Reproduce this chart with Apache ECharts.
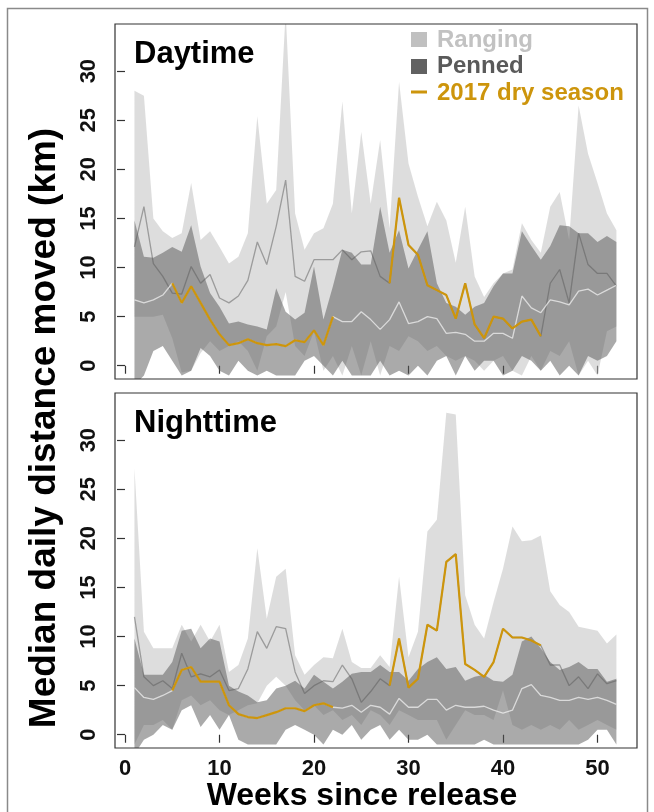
<!DOCTYPE html>
<html><head><meta charset="utf-8">
<script src="https://cdn.jsdelivr.net/npm/echarts@6.0.0/dist/echarts.min.js"></script>
<style>html,body{margin:0;padding:0;background:#fff}#chart{width:654px;height:812px}</style>
</head><body><div id="chart"></div>
<script>
const weeks = [1,2,3,4,5,6,7,8,9,10,11,12,13,14,15,16,17,18,19,20,21,22,23,24,25,26,27,28,29,30,31,32,33,34,35,36,37,38,39,40,41,42,43,44,45,46,47,48,49,50,51,52];
const xTicks = [0,10,20,30,40,50];
const yTicks = [0,5,10,15,20,25,30];

// Daytime
const rangingUpperDay = [28.0,27.5,15.0,13.7,13.0,13.5,18.6,12.8,13.7,12.1,10.4,11.1,13.5,25.4,16.5,17.9,36.0,15.5,11.8,13.5,14.0,16.5,26.9,15.5,23.8,16.5,23.0,14.0,28.9,20.6,17.2,14.2,16.7,14.8,10.5,16.2,9.1,7.0,8.4,9.4,9.8,14.5,12.8,11.5,16.2,17.7,12.8,26.5,21.6,18.6,15.5,13.8];
const rangingLowerDay = [5.0,5.0,5.0,5.2,2.8,-0.7,-0.5,1.3,2.5,1.5,2.0,2.5,1.5,-0.5,3.0,4.0,7.5,2.0,1.0,3.5,-0.5,1.0,-1.0,2.0,-1.0,2.5,-1.0,2.0,1.5,3.0,2.5,1.5,2.0,1.0,0.5,1.0,0.5,-0.5,0.5,1.0,-0.5,-1.0,1.0,-0.5,1.5,1.0,2.5,-1.0,0.5,-1.0,3.5,4.0];
const pennedUpperDay = [14.8,11.1,11.0,11.5,12.1,11.6,14.3,10.1,7.4,6.0,4.3,4.5,4.2,4.0,3.7,7.9,5.5,4.7,5.4,10.1,4.7,8.1,11.8,11.5,10.3,10.3,16.2,11.5,13.8,9.9,11.8,13.7,8.4,6.4,6.0,5.2,6.0,6.4,8.1,9.4,9.4,13.7,12.2,10.8,12.2,14.3,14.2,13.5,13.5,12.6,13.2,12.6];
const pennedLowerDay = [-2,-1,1.5,2.0,0.5,-1,-0.5,1.8,1.0,-0.5,-1,0.5,-0.5,-1,-0.5,-1,-1,-1,0.5,1.0,0,-1,0.5,-1,-1,-1,0.5,-1,-0.5,-1,0,-1,0.5,1.0,-1,1.0,-0.5,0.5,0.5,-1,-0.5,1.0,0.5,-0.5,0.5,-1,0,-1,1.0,0.5,1.0,2.5];
const rangingMedianDay = [12.1,16.2,10.4,9.1,7.4,7.3,10.1,8.4,9.3,6.9,6.4,7.1,8.7,12.6,10.3,14.2,18.9,9.1,8.6,10.8,10.8,10.8,11.8,10.8,11.6,11.7,9.1,8.4,17.1,12.3,11.3,8.2,7.7,7.2,4.8,8.4,4.2,2.8,5.0,4.8,3.8,4.5,4.7,3.0,8.4,9.8,6.4,13.5,10.3,9.4,9.4,8.1];
const pennedMedianDay = [6.7,6.4,6.7,7.2,8.4,6.4,8.1,6.4,4.7,3.2,2.1,2.3,2.7,2.3,2.1,2.2,2.0,2.6,2.4,3.6,2.1,5.0,4.5,4.5,5.5,4.7,3.7,4.7,6.5,4.3,4.5,5.0,4.8,3.3,3.4,3.2,2.5,2.5,3.3,3.3,2.8,7.1,5.9,5.4,6.7,6.5,6.2,7.6,7.8,7.2,7.7,8.2];
const drySeasonDay = [null,null,null,null,8.4,6.4,8.1,6.4,4.7,3.2,2.1,2.3,2.7,2.3,2.1,2.2,2.0,2.6,2.4,3.6,2.1,5.0,null,null,null,null,null,8.4,17.1,12.3,11.3,8.2,7.7,7.2,4.8,8.4,4.2,2.8,5.0,4.8,3.8,4.5,4.7,3.0,null,null,null,null,null,null,null,null];

// Nighttime
const rangingUpperNight = [27.1,10.5,8.8,8.8,8.8,11.2,9.5,11.2,9.5,11.2,6.4,7.1,9.8,19.0,11.8,16.1,16.9,8.1,6.1,7.1,7.9,7.8,10.8,7.4,6.8,6.8,8.1,6.9,16.1,7.9,10.5,20.7,21.9,32.8,32.6,14.2,11.2,9.8,13.5,16.9,21.2,19.7,19.8,20.3,14.6,13.2,12.5,11.0,10.8,10.6,9.3,10.2];
const rangingLowerNight = [-1.0,1.0,1.0,1.5,0.5,3.5,4.0,3.0,3.5,2.5,2.0,2.5,3.0,3.2,5.0,5.9,5.0,3.5,2.5,3.0,2.0,2.5,1.5,2.0,1.0,2.5,2.0,1.0,2.5,2.0,1.5,1.5,1.5,-0.5,1.0,2.5,2.0,2.0,1.5,4.5,1.0,0.5,1.0,0.5,1.0,0.5,1.5,0.5,1.0,1.5,1.0,0.5];
const pennedUpperNight = [9.8,6.1,6.1,6.1,7.4,10.6,10.8,8.8,9.8,9.5,5.0,4.4,4.0,3.3,3.5,4.7,5.0,5.5,4.7,6.1,5.4,4.7,5.4,6.2,6.4,6.4,7.1,6.4,6.4,5.5,6.7,7.4,7.9,6.7,6.9,5.5,5.9,6.1,5.5,5.4,6.1,9.5,10.0,8.8,7.4,6.6,6.9,7.4,6.7,6.7,5.4,5.7];
const pennedLowerNight = [-2,-0.5,0,1.0,0.5,2.5,3.0,0.8,2.0,0.5,2.0,-0.5,-1,-1,-1,-1,0.5,1.0,0.5,0,-1,0.5,0,1.0,-0.5,0.5,1.0,-0.5,0.5,-0.5,-0.5,0,-1,-1,-1,-1,-1,-0.5,-1,-1,-1,-1,-1,-1,-1,-1,-1,-1,-0.5,0.5,0.5,-1];
const rangingMedianNight = [12.0,5.9,5.0,5.5,4.7,8.3,5.9,6.2,5.9,6.6,4.5,4.7,6.7,10.5,8.8,11.0,10.8,6.4,4.2,5.0,5.5,5.4,7.1,5.7,3.3,4.4,5.7,5.0,9.8,4.8,5.7,11.2,10.6,17.6,18.4,7.2,6.6,5.9,7.4,10.8,9.9,9.9,9.6,9.1,7.1,7.1,5.0,5.9,4.7,6.2,5.2,5.5];
const pennedMedianNight = [4.8,3.8,3.6,4.0,4.5,6.6,6.9,5.4,5.4,5.4,3.0,2.1,1.8,1.7,2.0,2.3,2.7,2.7,2.4,3.0,3.2,2.8,2.7,3.0,2.3,3.0,2.8,2.1,3.7,2.8,2.8,3.6,3.6,2.5,3.0,2.8,2.8,2.9,2.5,2.2,2.5,4.7,5.1,4.0,3.8,3.5,3.5,3.8,3.6,3.8,3.5,3.1];
const drySeasonNight = [null,null,null,null,4.5,6.6,6.9,5.4,5.4,5.4,3.0,2.1,1.8,1.7,2.0,2.3,2.7,2.7,2.4,3.0,3.2,2.8,null,null,null,null,null,5.0,9.8,4.8,5.7,11.2,10.6,17.6,18.4,7.2,6.6,5.9,7.4,10.8,9.9,9.9,9.6,9.1,null,null,null,null,null,null,null,null];

const panelTitles = ['Daytime','Nighttime'];
const legendLabels = ['Ranging','Penned','2017 dry season'];
const xTitle = 'Weeks since release';
const yTitle = 'Median daily distance moved (km)';

const FONT = "'Liberation Sans', Arial, Helvetica, sans-serif";
const C_RANGE = 'rgba(187,187,187,0.5)';
const C_PEN = 'rgba(85,85,85,0.5)';
const C_RMED = 'rgba(90,90,90,0.5)';
const C_PMED = 'rgba(240,240,240,0.75)';
const C_DRY = '#CD950C';

const GRID_L = 115, GRID_W = 522, GRID_H = 355, TOPS = [24, 393];

function band(gi, upper, lower, fill) {
  return {
    type: 'custom', xAxisIndex: gi, yAxisIndex: gi, silent: true, clip: true, z: 1,
    data: [[weeks[0], upper[0]]],
    renderItem: function (params, api) {
      const pts = [];
      for (let i = 0; i < weeks.length; i++) pts.push(api.coord([weeks[i], upper[i]]));
      for (let i = weeks.length - 1; i >= 0; i--) pts.push(api.coord([weeks[i], lower[i]]));
      return { type: 'polygon', shape: { points: pts }, style: { fill: fill } };
    }
  };
}
function line(gi, arr, color, width, z) {
  return {
    type: 'line', xAxisIndex: gi, yAxisIndex: gi, silent: true, z: z,
    showSymbol: false, symbol: 'none', connectNulls: false,
    data: weeks.map((w, i) => [w, arr[i] == null ? '-' : arr[i]]),
    lineStyle: { color: color, width: width }
  };
}

const series = [
  band(0, rangingUpperDay, rangingLowerDay, C_RANGE),
  band(0, pennedUpperDay, pennedLowerDay, C_PEN),
  line(0, rangingMedianDay, C_RMED, 1.3, 3),
  line(0, pennedMedianDay, C_PMED, 1.3, 3),
  line(0, drySeasonDay, C_DRY, 2.2, 4),
  band(1, rangingUpperNight, rangingLowerNight, C_RANGE),
  band(1, pennedUpperNight, pennedLowerNight, C_PEN),
  line(1, rangingMedianNight, C_RMED, 1.3, 3),
  line(1, pennedMedianNight, C_PMED, 1.3, 3),
  line(1, drySeasonNight, C_DRY, 2.2, 4)
];

const graphic = [
  { type: 'rect', shape: { x: 7.5, y: 8.5, width: 640, height: 820 }, style: { fill: null, stroke: '#8a8a8a', lineWidth: 1.5 }, z: 200, silent: true }
];
TOPS.forEach((t, i) => {
  graphic.push({ type: 'rect', shape: { x: GRID_L, y: t, width: GRID_W, height: GRID_H }, style: { fill: null, stroke: '#333', lineWidth: 1.2 }, z: 200, silent: true });
  graphic.push({ type: 'text', x: 134, y: t + 30, style: { text: panelTitles[i], font: 'bold 31px ' + FONT, fill: '#000', verticalAlign: 'middle' }, z: 210 });
});
// legend
graphic.push({ type: 'rect', shape: { x: 411, y: 32, width: 16, height: 15 }, style: { fill: '#c0c0c0' }, z: 210 });
graphic.push({ type: 'rect', shape: { x: 411, y: 59, width: 16, height: 15 }, style: { fill: '#616161' }, z: 210 });
graphic.push({ type: 'line', shape: { x1: 411, y1: 92, x2: 427, y2: 92 }, style: { stroke: C_DRY, lineWidth: 3 }, z: 210 });
[['#c2c2c2', 40], ['#5a5a5a', 66.5], [C_DRY, 93]].forEach((d, i) => {
  graphic.push({ type: 'text', x: 437, y: d[1], style: { text: legendLabels[i], font: 'bold 24px ' + FONT, fill: d[0], verticalAlign: 'middle' }, z: 210 });
});
graphic.push({ type: 'text', x: 362, y: 796, style: { text: xTitle, font: 'bold 32px ' + FONT, fill: '#000', align: 'center', verticalAlign: 'middle' }, z: 210 });
graphic.push({ type: 'text', x: 45, y: 428, rotation: Math.PI / 2, style: { text: yTitle, font: 'bold 37px ' + FONT, fill: '#000', align: 'center', verticalAlign: 'middle' }, z: 210 });

const option = {
  animation: false,
  backgroundColor: '#ffffff',
  grid: TOPS.map(t => ({ left: GRID_L, top: t, width: GRID_W, height: GRID_H, show: false })),
  xAxis: [0, 1].map(i => ({
    type: 'value', gridIndex: i, min: -1.06, max: 54.18,
    axisLine: { show: false }, splitLine: { show: false },
    axisTick: { show: true, customValues: xTicks, length: 8, lineStyle: { color: '#333', width: 1.2 } },
    axisLabel: { show: i === 1, customValues: xTicks, margin: 10, fontSize: 22, fontWeight: 'bold', color: '#111', fontFamily: FONT }
  })),
  yAxis: [0, 1].map(i => ({
    type: 'value', gridIndex: i, min: -1.35, max: 34.8,
    axisLine: { show: false }, splitLine: { show: false },
    axisTick: { show: true, customValues: yTicks, length: 8, lineStyle: { color: '#333', width: 1.2 } },
    axisLabel: { show: true, customValues: yTicks, rotate: 90, margin: 15, fontSize: 22, fontWeight: 'bold', color: '#111', fontFamily: FONT }
  })),
  series: series,
  graphic: graphic
};
const chart = echarts.init(document.getElementById('chart'), null, { renderer: 'canvas' });
chart.setOption(option);
</script></body></html>
